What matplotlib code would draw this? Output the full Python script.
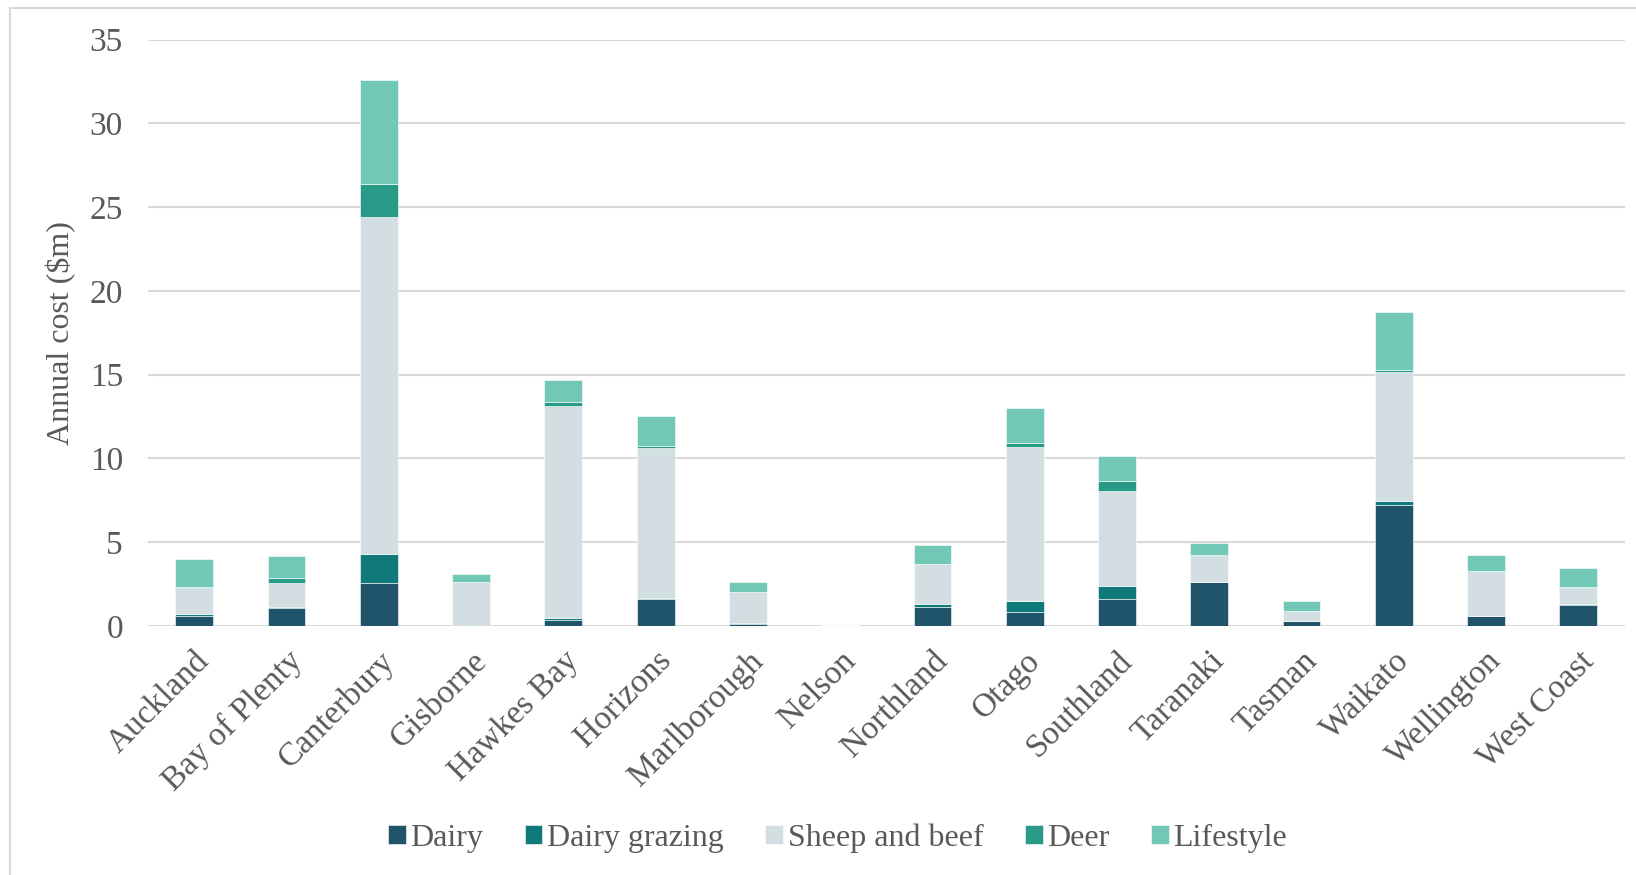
import matplotlib.pyplot as plt
import numpy as np
from matplotlib.lines import Line2D

plt.rcParams['font.family'] = ['Liberation Serif', 'DejaVu Serif']

regions = ['Auckland', 'Bay of Plenty', 'Canterbury', 'Gisborne', 'Hawkes Bay',
           'Horizons', 'Marlborough', 'Nelson', 'Northland', 'Otago', 'Southland',
           'Taranaki', 'Tasman', 'Waikato', 'Wellington', 'West Coast']

# annual cost ($m) by farm type
dairy = [0.60, 1.07, 2.56, 0.00, 0.34, 1.63, 0.10, 0.00, 1.15, 0.85, 1.61, 2.61, 0.28, 7.25, 0.60, 1.24]
dairy_grazing = [0.12, 0.05, 1.73, 0.00, 0.12, 0.06, 0.06, 0.00, 0.16, 0.62, 0.80, 0.00, 0.00, 0.22, 0.02, 0.07]
sheep_beef = [1.55, 1.44, 20.15, 2.61, 12.66, 8.91, 1.84, 0.05, 2.39, 9.23, 5.64, 1.57, 0.64, 7.69, 2.65, 0.94]
deer = [0.05, 0.29, 1.93, 0.00, 0.22, 0.16, 0.00, 0.00, 0.02, 0.21, 0.60, 0.03, 0.00, 0.14, 0.00, 0.08]
lifestyle = [1.70, 1.30, 6.24, 0.51, 1.34, 1.80, 0.60, 0.00, 1.11, 2.09, 1.49, 0.73, 0.59, 3.46, 0.95, 1.16]

series = [('Dairy', dairy, '#1F546B'),
          ('Dairy grazing', dairy_grazing, '#107A7A'),
          ('Sheep and beef', sheep_beef, '#D3DEE2'),
          ('Deer', deer, '#2A9A88'),
          ('Lifestyle', lifestyle, '#71C8B7')]

text_col = '#595959'

fig = plt.figure(figsize=(16.36, 8.75), dpi=100)
ax = fig.add_axes([0.0905, 0.2846, 0.9025, 0.6701])

x = np.arange(len(regions))
bottom = np.zeros(len(regions))
for name, vals, col in series:
    vals = np.array(vals)
    ax.bar(x, vals, width=0.41, bottom=bottom, color=col, label=name,
           edgecolor='white', linewidth=0.4, zorder=3)
    bottom += vals

ax.set_xlim(-0.5, len(regions) - 0.5)
ax.set_ylim(0, 35)
ax.set_yticks(range(0, 36, 5))
ax.grid(axis='y', color='#D9D9D9', linewidth=1.5, zorder=0)
for s in ax.spines.values():
    s.set_visible(False)
ax.tick_params(length=0, labelsize=24, colors=text_col)
ax.tick_params(axis='y', pad=18)
ax.tick_params(axis='x', pad=14)
ax.set_xticks(x)
ax.set_xticklabels(regions, rotation=45, ha='right', va='top', rotation_mode='anchor')
ax.set_ylabel('Annual cost ($m)', fontsize=23, color=text_col, labelpad=10)

ax.legend(loc='center', bbox_to_anchor=(0.512, 0.042), bbox_transform=fig.transFigure,
          ncol=5, frameon=False, fontsize=23, labelcolor=text_col,
          handlelength=0.55, handleheight=0.55, handletextpad=0.15, columnspacing=1.3)

# light frame around the chart area (left and top visible)
fig.add_artist(Line2D([10 / 1636, 10 / 1636], [0, 1 - 8 / 875], color='#D9D9D9', lw=1.5))
fig.add_artist(Line2D([10 / 1636, 1], [1 - 8 / 875, 1 - 8 / 875], color='#D9D9D9', lw=1.5))

fig.savefig('out.png', dpi=100)
